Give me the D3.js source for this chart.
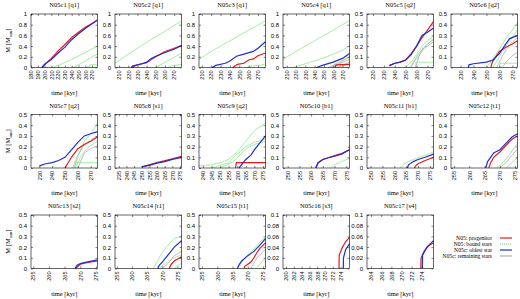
<!DOCTYPE html>
<html>
<head>
<meta charset="utf-8">
<script src="https://cdn.jsdelivr.net/npm/d3@7"></script>
<style>
  body { margin: 0; background: #fff; }
  svg { display: block; font-family: "Liberation Serif", "Times New Roman", serif; }
</style>
</head>
<body>
<div id="chart"></div>
<script>
// panel titles
const titles = ['N05c1 [q1]', 'N05c2 [q1]', 'N05c3 [q1]', 'N05c4 [q1]', 'N05c5 [q2]', 'N05c6 [q2]',
  'N05c7 [q2]', 'N05c8 [s1]', 'N05c9 [q2]', 'N05c10 [b1]', 'N05c11 [b1]', 'N05c12 [t1]',
  'N05c13 [s2]', 'N05c14 [t1]', 'N05c15 [t1]', 'N05c16 [s3]', 'N05c17 [s4]'];

// time range of each panel [kyr]
const timeRange = [[180, 278], [205.5, 278], [207, 278], [206, 277.5], [214.5, 275.5], [222.6, 274],
  [223.5, 275.3], [232.5, 276], [237.7, 276.5], [248, 276.4], [248.5, 276.5], [254, 275.8],
  [254.3, 275.5], [254.3, 276.4], [254, 275.8], [259.2, 276.3], [263.2, 276.3]];

const xTicks = [
  [180, 190, 200, 210, 220, 230, 240, 250, 260, 270],
  [210, 220, 230, 240, 250, 260, 270],
  [210, 220, 230, 240, 250, 260, 270],
  [210, 220, 230, 240, 250, 260, 270],
  [220, 230, 240, 250, 260, 270],
  [230, 240, 250, 260, 270],
  [230, 240, 250, 260, 270],
  [235, 240, 245, 250, 255, 260, 265, 270, 275],
  [240, 245, 250, 255, 260, 265, 270, 275],
  [250, 255, 260, 265, 270, 275],
  [250, 255, 260, 265, 270, 275],
  [255, 260, 265, 270, 275],
  [255, 260, 265, 270, 275],
  [255, 260, 265, 270, 275],
  [255, 260, 265, 270, 275],
  [260, 262, 264, 266, 268, 270, 272, 274],
  [264, 266, 268, 270, 272, 274]
];

const yTicks1 = [0, 0.2, 0.4, 0.6, 0.8, 1];
const yTicks05 = [0, 0.1, 0.2, 0.3, 0.4, 0.5];
const yTicks01 = [0, 0.02, 0.04, 0.06, 0.08, 0.1];
const yTicks = [yTicks1, yTicks1, yTicks1, yTicks1, yTicks05, yTicks05, yTicks05, yTicks05, yTicks05,
  yTicks05, yTicks05, yTicks05, yTicks05, yTicks05, yTicks05, yTicks01, yTicks01];

// N05: progenitor (red), [time, mass]
const progenitor = [
  [[197, 0], [200, 0.05], [210, 0.17], [220, 0.31], [230, 0.43], [240, 0.56], [250, 0.66], [260, 0.75], [270, 0.82], [277.5, 0.88]],
  [[224, 0], [230, 0.05], [235, 0.07], [240, 0.09], [245, 0.15], [250, 0.2], [260, 0.3], [270, 0.36], [278, 0.41]],
  [[243, 0], [248, 0.06], [255, 0.08], [260, 0.14], [265, 0.16], [270, 0.22], [278, 0.27]],
  [[262, 0], [263, 0.05], [277.5, 0.06]],
  [[235, 0.02], [240, 0.04], [245, 0.05], [250, 0.07], [255, 0.13], [260, 0.2], [265, 0.28], [270, 0.35], [275.5, 0.43]],
  [[253.5, 0], [254, 0.03], [255, 0.06], [260, 0.15], [265, 0.19], [270, 0.22], [274, 0.25]],
  [[250, 0], [255, 0.1], [260, 0.18], [265, 0.22], [270, 0.25], [275.3, 0.29]],
  [[250, 0.012], [260, 0.05], [270, 0.085], [276, 0.11]],
  [[259, 0], [259.5, 0.05], [276.5, 0.05]],
  [[262, 0], [263, 0.05], [265, 0.08], [268, 0.1], [270, 0.115], [273, 0.135], [276.4, 0.17]],
  [[268.5, 0], [269, 0.02], [270, 0.04], [273, 0.07], [276.5, 0.1]],
  [[266.4, 0], [267, 0.05], [268, 0.1], [270, 0.15], [272, 0.21], [274, 0.27], [275.8, 0.3]],
  [[268.5, 0], [270, 0.04], [272, 0.055], [275.5, 0.07]],
  [[272.3, 0], [273, 0.04], [274, 0.07], [276.4, 0.11]],
  [[268.8, 0], [269, 0.02], [270, 0.04], [271, 0.06], [272, 0.1], [273, 0.15], [274, 0.19], [275.8, 0.24]],
  [[273.6, 0], [273.65, 0.025], [274.5, 0.04], [275.3, 0.05], [276.3, 0.058]],
  [[273.8, 0], [273.85, 0.02], [274.5, 0.033], [275.3, 0.042], [276.3, 0.048]]
];

// N05c: oldest star (blue)
const oldest = [
  [[196, 0], [200, 0.06], [210, 0.15], [220, 0.27], [230, 0.38], [240, 0.52], [250, 0.63], [260, 0.73], [270, 0.82], [277.5, 0.89]],
  [[223, 0], [225, 0.03], [235, 0.07], [240, 0.1], [245, 0.17], [250, 0.21], [260, 0.28], [270, 0.34], [278, 0.41]],
  [[221, 0], [225, 0.04], [235, 0.08], [240, 0.12], [247, 0.21], [255, 0.25], [265, 0.3], [270, 0.36], [278, 0.48]],
  [[242, 0], [250, 0.05], [260, 0.1], [270, 0.17], [277.5, 0.26]],
  [[235, 0.015], [240, 0.04], [245, 0.05], [250, 0.07], [255, 0.12], [260, 0.2], [265, 0.3], [270, 0.33], [275.5, 0.37]],
  [[236, 0], [236.5, 0.025], [240, 0.035], [250, 0.05], [255, 0.07], [260, 0.13], [265, 0.22], [268, 0.27], [274, 0.3]],
  [[230, 0.02], [235, 0.04], [240, 0.05], [245, 0.07], [250, 0.1], [255, 0.17], [260, 0.24], [265, 0.3], [270, 0.32], [275.3, 0.34]],
  [[250, 0.01], [255, 0.025], [260, 0.045], [265, 0.06], [270, 0.08], [276, 0.1]],
  [[261, 0], [265, 0.08], [268, 0.12], [270, 0.17], [273, 0.23], [276.5, 0.3]],
  [[262, 0], [263, 0.05], [265, 0.08], [268, 0.1], [270, 0.11], [273, 0.13], [276.4, 0.17]],
  [[265.5, 0], [266, 0.03], [268, 0.06], [270, 0.08], [273, 0.1], [276.5, 0.13]],
  [[265.4, 0], [266, 0.06], [267, 0.1], [268, 0.14], [270, 0.17], [272, 0.23], [274, 0.29], [275.8, 0.32]],
  [[268.3, 0], [269, 0.03], [270, 0.045], [272, 0.06], [275.5, 0.08]],
  [[268.5, 0], [269, 0.03], [270, 0.06], [272, 0.13], [274, 0.2], [276.4, 0.26]],
  [[266.6, 0], [267, 0.03], [268, 0.07], [270, 0.12], [272, 0.16], [274, 0.22], [275.8, 0.28]],
  [[274.7, 0], [274.75, 0.02], [275.3, 0.035], [276.3, 0.046]],
  [[274.1, 0], [274.15, 0.025], [275, 0.04], [276.3, 0.052]]
];

// N05: bound stars (green), several per panel
const bound = [
  [[[213, 0], [220, 0.04], [240, 0.15], [260, 0.28], [277.5, 0.4]], [[243, 0], [250, 0.05], [260, 0.12], [270, 0.2], [277.5, 0.25]], [[262, 0], [268, 0.05], [277.5, 0.06]]],
  [[[205.5, 0.08], [220, 0.25], [240, 0.47], [260, 0.68], [278, 0.87]], [[250, 0], [260, 0.1], [270, 0.19], [278, 0.27]], [[262, 0], [270, 0.04], [278, 0.06]]],
  [[[207, 0.15], [220, 0.3], [240, 0.5], [260, 0.7], [278, 0.87]], [[258, 0], [265, 0.03], [278, 0.06]]],
  [[[206, 0.15], [220, 0.3], [240, 0.5], [260, 0.7], [277.5, 0.88]], [[217, 0], [230, 0.07], [250, 0.18], [260, 0.25], [270, 0.32], [277.5, 0.41]], [[258, 0], [265, 0.06], [277.5, 0.2]]],
  [[[250, 0], [255, 0.05], [260, 0.12], [265, 0.2], [270, 0.25], [275.5, 0.29]], [[253, 0], [260, 0.08], [265, 0.15], [270, 0.22], [275.5, 0.27]], [[259, 0], [259.5, 0.05], [275.5, 0.05]]],
  [[[250, 0], [255, 0.08], [260, 0.17], [265, 0.27], [270, 0.35], [274, 0.42]], [[255, 0], [260, 0.1], [265, 0.2], [270, 0.28], [274, 0.35]], [[260, 0], [260.5, 0.04], [274, 0.04]]],
  [[[257, 0], [260, 0.1], [265, 0.25], [270, 0.32], [275.3, 0.42]], [[258, 0], [262, 0.1], [266, 0.17], [270, 0.21], [275.3, 0.25]], [[258, 0], [258.5, 0.05], [275.3, 0.05]]],
  [],
  [[[237.7, 0.02], [245, 0.03], [250, 0.05], [255, 0.08], [260, 0.15], [265, 0.25], [270, 0.35], [276.5, 0.42]], [[245, 0], [255, 0.05], [260, 0.13], [265, 0.2], [270, 0.24], [276.5, 0.27]], [[250, 0], [258, 0.06], [262, 0.13], [265, 0.18], [270, 0.22], [276.5, 0.25]]],
  [[[268.5, 0], [270, 0.03], [273, 0.06], [276.4, 0.09]]],
  [[[262.5, 0], [264, 0.04], [268, 0.08], [272, 0.11], [276.5, 0.15]]],
  [[[269, 0], [271, 0.05], [273, 0.12], [275.8, 0.23]], [[272, 0], [274, 0.05], [275.8, 0.1]]],
  [],
  [[[267, 0], [268, 0.05], [270, 0.15], [272, 0.22], [274, 0.28], [276.4, 0.3]], [[269, 0], [271, 0.05], [274, 0.1], [276.4, 0.13]], [[274, 0], [276.4, 0.05]]],
  [[[266.8, 0], [268, 0.06], [270, 0.13], [272, 0.18], [274, 0.25], [275.8, 0.29]], [[273, 0], [274, 0.04], [275.8, 0.1]]],
  [],
  []
];

// N05c: remaining stars (grey)
const remaining = [
  [], [], [],
  [[[255, 0], [277.5, 0.2]], [[258, 0], [277.5, 0.15]], [[262, 0], [277.5, 0.1]], [[265, 0], [277.5, 0.07]]],
  [[[259, 0], [262, 0.1], [266, 0.18], [270, 0.22], [275.5, 0.26]], [[255, 0], [260, 0.1], [265, 0.17], [270, 0.2], [275.5, 0.24]]],
  [[[258, 0], [262, 0.1], [266, 0.18], [270, 0.24], [274, 0.28]], [[262, 0], [266, 0.06], [270, 0.11], [274, 0.14]]],
  [[[256, 0], [260, 0.12], [265, 0.22], [270, 0.26], [275.3, 0.3]], [[260, 0], [265, 0.14], [270, 0.18], [275.3, 0.21]]],
  [], [], [], [],
  [[[270, 0], [272, 0.05], [274, 0.12], [275.8, 0.18]]],
  [],
  [[[270, 0], [272, 0.05], [274, 0.12], [276.4, 0.16]]],
  [[[271, 0], [273, 0.1], [275.8, 0.18]]],
  [], []
];

const legendLabels = ['N05: progenitor', 'N05: bound stars', 'N05c: oldest star', 'N05c: remaining stars'];

const colors = { red: '#e41a1c', green: '#8fe88f', blue: '#1f2fd0', grey: '#b0b0b0' };

const width = 520;
const height = 299;
const boxW = 66.5;
const boxH = 53.5;
const colX = [31, 115, 199, 283, 367, 451];
const rowY = [14, 114.5, 215];

const svg = d3.select('#chart')
  .append('svg')
    .attr('width', width)
    .attr('height', height);

const fmt = v => String(+v.toFixed(2));

titles.forEach((title, i) => {
  const col = i % 6;
  const row = Math.floor(i / 6);
  const g = svg.append('g')
    .attr('transform', `translate(${colX[col]}, ${rowY[row]})`);

  const yt = yTicks[i];
  const xScale = d3.scaleLinear().domain(timeRange[i]).range([0, boxW]);
  const yScale = d3.scaleLinear().domain([0, yt[yt.length - 1]]).range([boxH, 0]);

  const line = d3.line()
    .x(d => xScale(d[0]))
    .y(d => yScale(d[1]));

  // data lines
  const plot = g.append('g');
  bound[i].forEach(s => plot.append('path')
    .attr('d', line(s)).attr('fill', 'none')
    .attr('stroke', colors.green).attr('stroke-width', 0.8));
  remaining[i].forEach(s => plot.append('path')
    .attr('d', line(s)).attr('fill', 'none')
    .attr('stroke', colors.grey).attr('stroke-width', 0.8));
  plot.append('path')
    .attr('d', line(progenitor[i])).attr('fill', 'none')
    .attr('stroke', colors.red).attr('stroke-width', 1.2);
  plot.append('path')
    .attr('d', line(oldest[i])).attr('fill', 'none')
    .attr('stroke', colors.blue).attr('stroke-width', 1.2);

  // frame
  g.append('rect')
    .attr('width', boxW).attr('height', boxH)
    .attr('fill', 'none').attr('stroke', '#000').attr('stroke-width', 0.6);

  // x axis (bottom + mirrored top ticks)
  const xAxis = d3.axisBottom(xScale).tickValues(xTicks[i]).tickSize(-2).tickPadding(3).tickFormat(d3.format('d'));
  const gx = g.append('g')
    .attr('transform', `translate(0, ${boxH})`)
    .call(xAxis);
  gx.select('.domain').remove();
  gx.selectAll('text')
    .attr('transform', 'rotate(-90)')
    .attr('x', -3).attr('y', 0).attr('dy', '0.32em')
    .attr('text-anchor', 'end')
    .attr('font-size', 5.6).attr('font-family', null);
  const gxt = g.append('g').call(d3.axisTop(xScale).tickValues(xTicks[i]).tickSize(-2).tickFormat(''));
  gxt.select('.domain').remove();

  // y axis (left + mirrored right ticks)
  const gy = g.append('g').call(d3.axisLeft(yScale).tickValues(yt).tickSize(-2).tickPadding(4).tickFormat(fmt));
  gy.select('.domain').remove();
  gy.selectAll('text').attr('font-size', 6).attr('font-family', null);
  const gyr = g.append('g')
    .attr('transform', `translate(${boxW}, 0)`)
    .call(d3.axisRight(yScale).tickValues(yt).tickSize(-2).tickFormat(''));
  gyr.select('.domain').remove();
  g.selectAll('.tick line').attr('stroke-width', 0.5);

  // title
  g.append('text')
    .attr('x', boxW / 2).attr('y', -7)
    .attr('text-anchor', 'middle')
    .attr('font-size', 6.5)
    .text(title);

  // x label
  g.append('text')
    .attr('x', boxW / 2).attr('y', boxH + 27)
    .attr('text-anchor', 'middle')
    .attr('font-size', 6.5)
    .text('time [kyr]');

  // y label on first column
  if (col === 0) {
    const yl = g.append('text')
      .attr('transform', `translate(-21, ${boxH / 2}) rotate(-90)`)
      .attr('text-anchor', 'middle')
      .attr('font-size', 6.5);
    yl.append('tspan').text('M [M');
    yl.append('tspan').attr('font-size', 4.5).attr('dy', 1.5).text('sun');
    yl.append('tspan').attr('dy', -1.5).text(']');
  }
});

// legend
const legendColors = [colors.red, '#44c044', colors.blue, colors.grey];
const legend = svg.append('g').attr('transform', 'translate(492, 238)');
legendLabels.forEach((label, k) => {
  const y = k * 6;
  legend.append('text')
    .attr('x', 0).attr('y', y).attr('dy', '0.32em')
    .attr('text-anchor', 'end')
    .attr('font-size', 5.6)
    .text(label);
  legend.append('line')
    .attr('x1', 8).attr('x2', 20).attr('y1', y).attr('y2', y)
    .attr('stroke', legendColors[k])
    .attr('stroke-width', k === 1 ? 0.8 : 1.2)
    .attr('stroke-dasharray', k === 1 ? '1,1' : null);
});
</script>
</body>
</html>
